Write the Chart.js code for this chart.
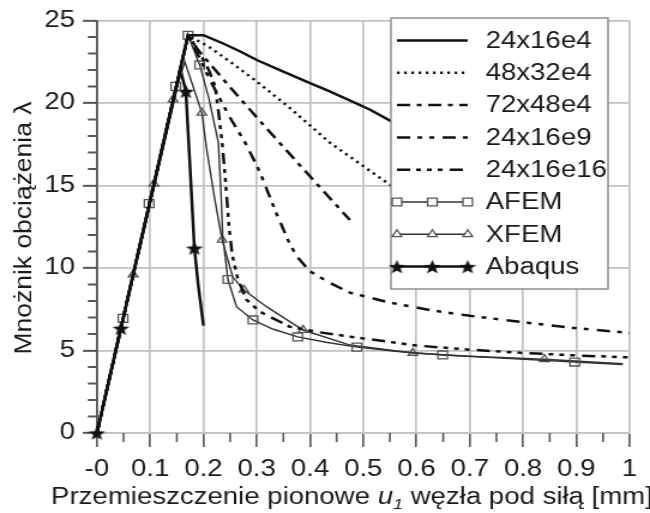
<!DOCTYPE html>
<html lang="pl">
<head>
<meta charset="utf-8">
<title>Mnożnik obciążenia λ</title>
<script src="https://cdn.jsdelivr.net/npm/chart.js@4.4.1/dist/chart.umd.min.js"></script>
<style>
    html, body { margin: 0; padding: 0; background: #fff; }
</style>
</head>
<body>
<!-- the reference is stretched horizontally, so the canvas is drawn narrower and scaled up by css -->
<canvas id="wykres" width="542" height="513" style="width:650px;height:513px"></canvas>
<script>
// ---- values (x: u1 [mm], y: lambda) ----
const xTicks = [0, 0.1, 0.2, 0.3, 0.4, 0.5, 0.6, 0.7, 0.8, 0.9, 1];
const xTickLabels = ['-0', '0.1', '0.2', '0.3', '0.4', '0.5', '0.6', '0.7', '0.8', '0.9', '1'];
const xMinor = [0.05, 0.15, 0.25, 0.35, 0.45, 0.55, 0.65, 0.75, 0.85, 0.95];
const yTicks = [0, 5, 10, 15, 20, 25];
const yTickLabels = ['0', '5', '10', '15', '20', '25'];
const yMinor = [1, 2, 3, 4, 6, 7, 8, 9, 11, 12, 13, 14, 16, 17, 18, 19, 21, 22, 23, 24];

const m24x16e4X = [0, 0.171, 0.2, 0.237, 0.27, 0.3, 0.35, 0.4, 0.437, 0.512, 0.552, 0.65, 0.8];
const m24x16e4Y = [0, 24.1, 24.1, 23.6, 23.1, 22.6, 21.9, 21.2, 20.7, 19.6, 18.9, 17.4, 15.2];

const m48x32e4X = [0, 0.171, 0.188, 0.21, 0.25, 0.3, 0.362, 0.437, 0.512, 0.552, 0.65];
const m48x32e4Y = [0, 24.1, 23.8, 23.4, 22.5, 21.3, 19.7, 17.6, 15.9, 15.0, 13.0];

const m72x48e4X = [0, 0.171, 0.19, 0.25, 0.32, 0.4, 0.475];
const m72x48e4Y = [0, 24.1, 23.2, 20.95, 18.4, 15.55, 12.9];

const m24x16e9X = [0, 0.171, 0.19, 0.212, 0.25, 0.28, 0.306, 0.337, 0.36, 0.375, 0.4, 0.437, 0.475, 0.55, 0.625, 0.7, 0.812, 0.9, 1.0];
const m24x16e9Y = [0, 24.1, 22.9, 21.4, 19.1, 17.5, 15.8, 13.3, 11.6, 10.7, 9.8, 9.1, 8.5, 7.9, 7.45, 7.1, 6.67, 6.35, 6.06];

const m24x16e16X = [0, 0.171, 0.19, 0.21, 0.222, 0.23, 0.236, 0.242, 0.248, 0.254, 0.264, 0.28, 0.306, 0.362, 0.418, 0.475, 0.6, 0.7, 0.8, 0.9, 1.0];
const m24x16e16Y = [0, 24.1, 23.2, 22.0, 21.0, 19.0, 17.3, 15.0, 12.5, 10.8, 9.4, 8.1, 7.35, 6.44, 6.1, 5.84, 5.3, 5.05, 4.85, 4.7, 4.58];

const afemX = [0, 0.049, 0.098, 0.148, 0.171, 0.193, 0.21, 0.228, 0.233, 0.236, 0.246, 0.262, 0.293, 0.33, 0.377, 0.43, 0.488, 0.56, 0.649, 0.75, 0.897, 0.987];
const afemY = [0, 6.95, 13.9, 21.0, 24.1, 22.3, 20.3, 17.6, 14.5, 12.0, 9.3, 7.65, 6.85, 6.3, 5.82, 5.5, 5.2, 4.95, 4.73, 4.55, 4.3, 4.15];
const afemMarks = [1, 2, 3, 4, 5, 10, 12, 14, 16, 18, 20];

const xfemX = [0, 0.068, 0.107, 0.143, 0.165, 0.197, 0.206, 0.22, 0.235, 0.255, 0.276, 0.319, 0.387, 0.475, 0.593, 0.7, 0.84, 0.987];
const xfemY = [0, 9.6, 15.1, 20.2, 22.5, 19.4, 17.2, 14.4, 11.7, 9.45, 8.67, 7.64, 6.24, 5.33, 4.85, 4.65, 4.47, 4.2];
const xfemMarks = [1, 2, 3, 5, 8, 10, 12, 14, 16];

const abaqusX = [0, 0.045, 0.157, 0.167, 0.175, 0.183, 0.19, 0.2];
const abaqusY = [0, 6.35, 22.0, 20.7, 16.0, 11.2, 9.0, 6.5];
const abaqusMarks = [0, 1, 3, 5];

// ---- drawing ----
const FONT = '"Liberation Sans", Arial, Helvetica, sans-serif';
const INK = '#111';

Chart.defaults.font.family = FONT;
Chart.defaults.font.size = 23;
Chart.defaults.color = '#1a1a1a';

/**
 * Filled five-point star used as the Abaqus marker
 */
function makeStar(r) {
    const c = document.createElement('canvas');
    const s = Math.ceil(r * 2 + 2);
    c.width = s;
    c.height = s;
    const g = c.getContext('2d');
    g.translate(s / 2, s / 2 + r * 0.1);
    g.beginPath();
    for (let i = 0; i < 10; i++) {
        const rr = i % 2 ? r * 0.42 : r;
        const a = -Math.PI / 2 + i * Math.PI / 5;
        g.lineTo(rr * Math.cos(a), rr * Math.sin(a));
    }
    g.closePath();
    g.fillStyle = INK;
    g.fill();
    return c;
}
const star = makeStar(7.5);

function series(label, xs, ys, style) {
    return Object.assign({
        label,
        data: xs.map((x, i) => ({ x, y: ys[i] })),
        showLine: true,
        borderColor: INK,
        borderWidth: 2.5,
        pointRadius: 0,
        pointHoverRadius: 0,
        tension: 0,
        fill: false,
        clip: 10
    }, style);
}

function marked(list, r) {
    return (c) => list.includes(c.dataIndex) ? r : 0;
}

const datasets = [
    series('24x16e4', m24x16e4X, m24x16e4Y, {}),
    series('48x32e4', m48x32e4X, m48x32e4Y, { borderDash: [2.2, 3.8] }),
    series('72x48e4', m72x48e4X, m72x48e4Y, { borderDash: [11, 5.5, 4, 5.5] }),
    series('24x16e9', m24x16e9X, m24x16e9Y, { borderDash: [11, 6, 4, 6, 4, 7] }),
    series('24x16e16', m24x16e16X, m24x16e16Y, { borderDash: [11, 5, 4, 5, 4, 5, 4, 6] }),
    series('AFEM', afemX, afemY, {
        borderColor: '#333', borderWidth: 1.4,
        pointStyle: 'rect', pointRadius: marked(afemMarks, 5.6), legendRadius: 5.6,
        pointBorderColor: '#555', pointBackgroundColor: 'rgba(255,255,255,0)', pointBorderWidth: 1.3
    }),
    series('XFEM', xfemX, xfemY, {
        borderColor: '#333', borderWidth: 1.4,
        pointStyle: 'triangle', pointRadius: marked(xfemMarks, 4.6), legendRadius: 4.6,
        pointBorderColor: '#555', pointBackgroundColor: 'rgba(255,255,255,0)', pointBorderWidth: 1.3
    }),
    series('Abaqus', abaqusX, abaqusY, {
        borderWidth: 2.5, clip: false,
        pointStyle: star, pointRadius: marked(abaqusMarks, 7.5), legendRadius: 7.5
    })
];

/**
 * Minor ticks on both axes
 */
const minorTicks = {
    id: 'minorTicks',
    afterDraw(chart) {
        const { ctx, chartArea, scales } = chart;
        ctx.save();
        ctx.strokeStyle = '#555';
        ctx.lineWidth = 1.6;
        ctx.beginPath();
        xMinor.forEach(v => {
            const px = scales.x.getPixelForValue(v);
            ctx.moveTo(px, chartArea.bottom);
            ctx.lineTo(px, chartArea.bottom + 9);
        });
        ctx.stroke();
        ctx.lineWidth = 2;
        ctx.beginPath();
        yMinor.forEach(v => {
            const py = scales.y.getPixelForValue(v);
            ctx.moveTo(chartArea.left - 7.5, py);
            ctx.lineTo(chartArea.left, py);
        });
        ctx.stroke();
        ctx.restore();
    }
};

/**
 * Axis titles (x title has italic u with subscript 1)
 */
const axisTitles = {
    id: 'axisTitles',
    afterDraw(chart) {
        const ctx = chart.ctx;
        ctx.save();
        ctx.fillStyle = '#1a1a1a';
        ctx.textBaseline = 'alphabetic';
        const parts = [
            ['Przemieszczenie pionowe ', '23px ' + FONT, 0],
            ['u', 'italic 23px ' + FONT, 0],
            ['1', 'italic 15px ' + FONT, 5],
            [' węzła pod siłą [mm]', '23px ' + FONT, 0]
        ];
        let total = 0;
        parts.forEach(p => { ctx.font = p[1]; total += ctx.measureText(p[0]).width; });
        let x = 293.5 - total / 2;
        parts.forEach(p => {
            ctx.font = p[1];
            ctx.fillText(p[0], x, 504 + p[2]);
            x += ctx.measureText(p[0]).width;
        });

        ctx.translate(20.5, 228);
        ctx.rotate(-Math.PI / 2);
        ctx.scale(1.15, 1 / 1.15);
        ctx.font = '23px ' + FONT;
        ctx.textAlign = 'center';
        ctx.textBaseline = 'middle';
        ctx.fillText('Mnożnik obciążenia λ', 0, 0);
        ctx.restore();
    }
};

/**
 * Boxed legend drawn over the plot (white background)
 */
const boxLegend = {
    id: 'boxLegend',
    afterDraw(chart) {
        const ctx = chart.ctx;
        const box = { left: 326, top: 18, right: 507, bottom: 289 };
        ctx.save();
        ctx.fillStyle = '#fff';
        ctx.fillRect(box.left, box.top, box.right - box.left, box.bottom - box.top);
        ctx.strokeStyle = '#888';
        ctx.lineWidth = 1.4;
        ctx.strokeRect(box.left, box.top, box.right - box.left, box.bottom - box.top);

        chart.data.datasets.forEach((ds, i) => {
            const y = 40.5 + i * 32.3;
            const x0 = 331, x1 = 390;
            ctx.beginPath();
            ctx.setLineDash(ds.borderDash || []);
            ctx.lineWidth = ds.borderWidth;
            ctx.strokeStyle = ds.borderColor;
            ctx.moveTo(x0, y);
            ctx.lineTo(x1, y);
            ctx.stroke();
            ctx.setLineDash([]);
            if (ds.legendRadius) {
                [x0, (x0 + x1) / 2, x1].forEach(px => {
                    ctx.strokeStyle = ds.pointBorderColor || INK;
                    ctx.fillStyle = '#fff';
                    ctx.lineWidth = ds.pointBorderWidth || 1;
                    Chart.helpers.drawPoint(ctx, {
                        pointStyle: ds.pointStyle,
                        radius: ds.legendRadius,
                        rotation: 0,
                        borderWidth: ds.pointBorderWidth || 1
                    }, px, y);
                });
            }
            ctx.fillStyle = '#1a1a1a';
            ctx.font = '23px ' + FONT;
            ctx.textBaseline = 'middle';
            ctx.textAlign = 'left';
            ctx.fillText(ds.label, 405, y + 1);
        });
        ctx.restore();
    }
};

new Chart(document.getElementById('wykres'), {
    type: 'scatter',
    data: { datasets },
    options: {
        responsive: false,
        devicePixelRatio: 1,
        animation: false,
        events: [],
        layout: { padding: { top: 20, right: 17, bottom: 0, left: 0 } },
        plugins: {
            legend: { display: false },
            tooltip: { enabled: false }
        },
        scales: {
            x: {
                type: 'linear',
                min: 0,
                max: 1,
                afterBuildTicks: (scale) => { scale.ticks = xTicks.map(v => ({ value: v })); },
                afterFit: (scale) => { scale.height = 80; },
                ticks: {
                    autoSkip: false,
                    maxRotation: 0,
                    padding: 9,
                    color: '#1a1a1a',
                    callback: (value, index) => xTickLabels[index]
                },
                grid: {
                    color: '#c2c2c2',
                    lineWidth: 1.7,
                    tickLength: 14,
                    tickColor: '#555',
                    tickWidth: 1.6
                },
                border: { color: '#c2c2c2', width: 1.7 }
            },
            y: {
                type: 'linear',
                min: 0,
                max: 25,
                afterBuildTicks: (scale) => { scale.ticks = yTicks.map(v => ({ value: v })); },
                afterFit: (scale) => { scale.width = 80.8; },
                ticks: {
                    padding: 6.6,
                    color: '#1a1a1a',
                    callback: (value, index) => yTickLabels[index]
                },
                grid: {
                    color: '#c2c2c2',
                    lineWidth: 1.7,
                    tickLength: 11.7,
                    tickColor: '#555',
                    tickWidth: 2
                },
                border: { color: '#555', width: 1.8 }
            }
        }
    },
    plugins: [minorTicks, axisTitles, boxLegend]
});
</script>
</body>
</html>
